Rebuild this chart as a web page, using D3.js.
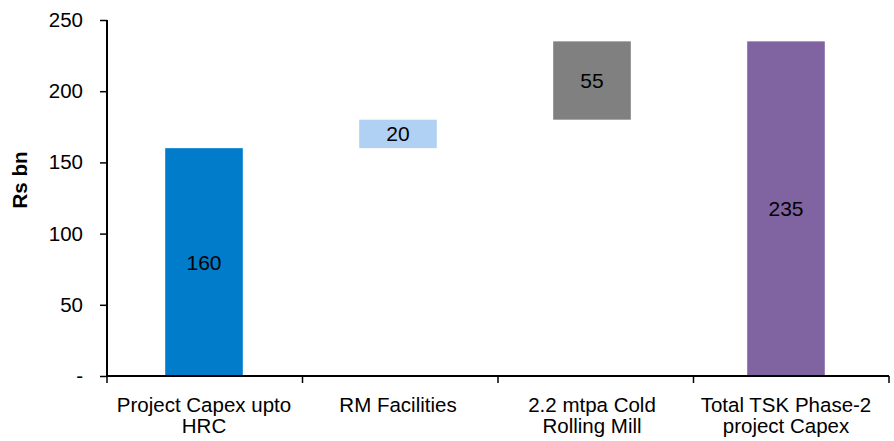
<!DOCTYPE html>
<html>
<head>
<meta charset="utf-8">
<script src="https://cdn.jsdelivr.net/npm/d3@7"></script>
<style>
  body { margin: 0; background: #fff; }
  text { font-family: "Liberation Sans", Arial, sans-serif; }
</style>
</head>
<body>
<div id="chart"></div>
<script>
// waterfall data
const categories = [["Project Capex upto", "HRC"], ["RM Facilities"], ["2.2 mtpa Cold", "Rolling Mill"], ["Total TSK Phase-2", "project Capex"]];
const starts = [0, 160, 180, 0];
const values = [160, 20, 55, 235];
const colors = ["#007CCB", "#B0D1F3", "#808080", "#8064A2"];
const yTicks = [0, 50, 100, 150, 200, 250];

const width = 894, height = 441;
const plotLeft = 107, plotRight = 889, plotTop = 20, plotBottom = 376;

const svg = d3.select("#chart").append("svg")
  .attr("width", width)
  .attr("height", height);

let y = d3.scaleLinear().domain([0, 250]).range([plotBottom, plotTop]);

// bars sit slightly left of the category slots, like excel does it
let x = d3.scaleBand()
  .domain(d3.range(values.length))
  .range([plotLeft, 883])
  .paddingInner(0.6)
  .paddingOuter(0.3);

let slots = d3.scaleBand()
  .domain(d3.range(values.length))
  .range([plotLeft, plotRight]);

svg.append("g")
  .selectAll("rect")
  .data(values)
  .join("rect")
  .attr("x", (d, i) => x(i))
  .attr("width", x.bandwidth())
  .attr("y", (d, i) => y(starts[i] + d))
  .attr("height", (d, i) => y(starts[i]) - y(starts[i] + d))
  .attr("fill", (d, i) => colors[i]);

svg.append("g")
  .selectAll("text")
  .data(values)
  .join("text")
  .attr("x", (d, i) => x(i) + x.bandwidth() / 2)
  .attr("y", (d, i) => y(starts[i] + d / 2))
  .attr("dy", "0.36em")
  .attr("text-anchor", "middle")
  .style("font-size", "21px")
  .attr("fill", "#000")
  .text(d => d);

// y axis
const yAxis = svg.append("g")
  .attr("transform", `translate(${plotLeft},0)`)
  .call(d3.axisLeft(y)
    .tickValues(yTicks)
    .tickSize(7)
    .tickPadding(17)
    .tickFormat(d => d === 0 ? "-" : d));
yAxis.select(".domain").attr("stroke", "#000").attr("stroke-width", 2).attr("d", `M0,${plotTop}V${plotBottom}`);
yAxis.selectAll(".tick line").attr("stroke", "#000").attr("stroke-width", 1.5);
yAxis.selectAll(".tick text")
  .style("font-size", "20.5px")
  .attr("fill", "#000");

// x axis with ticks on the slot boundaries
const bounds = d3.range(values.length + 1).map(i => i < values.length ? slots(i) : plotRight);
svg.append("line")
  .attr("x1", plotLeft).attr("x2", plotRight)
  .attr("y1", plotBottom).attr("y2", plotBottom)
  .attr("stroke", "#000").attr("stroke-width", 2);
svg.append("g")
  .selectAll("line")
  .data(bounds)
  .join("line")
  .attr("x1", d => d).attr("x2", d => d)
  .attr("y1", plotBottom).attr("y2", plotBottom + 7)
  .attr("stroke", "#000").attr("stroke-width", 1.5);

const xl = svg.append("g")
  .selectAll("text")
  .data(categories)
  .join("text")
  .attr("x", (d, i) => x(i) + x.bandwidth() / 2)
  .attr("y", 412)
  .attr("text-anchor", "middle")
  .style("font-size", "20.5px")
  .attr("fill", "#000");
xl.selectAll("tspan")
  .data(d => d)
  .join("tspan")
  .attr("x", function () { return this.parentNode.getAttribute("x"); })
  .attr("dy", (d, i) => i === 0 ? 0 : 21)
  .text(d => d);

svg.append("text")
  .attr("transform", "translate(27,180) rotate(-90)")
  .attr("text-anchor", "middle")
  .style("font-size", "20.5px")
  .style("font-weight", "bold")
  .attr("fill", "#000")
  .text("Rs bn");
</script>
</body>
</html>
